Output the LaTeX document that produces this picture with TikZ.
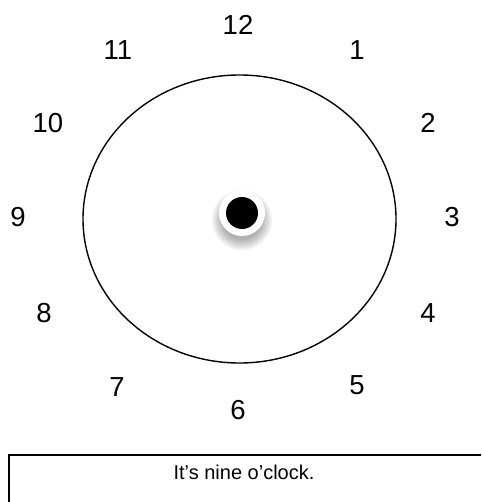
\documentclass[tikz,border=0pt]{standalone}
\usepackage{fontspec}
\setmainfont{Liberation Sans}
\begin{document}
\begin{tikzpicture}[x=1pt,y=-1pt,
    hour/.style={font=\fontsize{27.5}{32}\selectfont},
    caption/.style={font=\fontsize{20}{24}\selectfont}]
  \useasboundingbox (0,0) rectangle (481,502);
  \clip (0,0) rectangle (481,502);

  % clock face
  \draw[line width=1.4pt] (239.5,219) ellipse (156.5 and 144);

  % hours
  \node[hour] (h12) at (238,25) {12};
  \node[hour] (h1) at (357,50) {1};
  \node[hour] (h2) at (428,123) {2};
  \node[hour] (h3) at (452,217) {3};
  \node[hour] (h4) at (428,313) {4};
  \node[hour] (h5) at (357,385) {5};
  \node[hour] (h6) at (238,410) {6};
  \node[hour] (h7) at (117,387) {7};
  \node[hour] (h8) at (44,313) {8};
  \node[hour] (h9) at (18,217) {9};
  \node[hour] (h10) at (48,123) {10};
  \node[hour] (h11) at (118,50) {11};

  % centre pin with soft shadow
  \foreach \r in {30,28,...,20}
    \fill[black,opacity=0.06] (242,220) circle (\r);
  \fill[white] (242,213) circle (23);
  \fill[black] (242,213) circle (16);

  % caption box
  \draw[line width=1.6pt] (9,510) -- (9,455) -- (490,455);
  \node[caption] (msg) at (244,472) {It’s nine o’clock.};
\end{tikzpicture}
\end{document}
